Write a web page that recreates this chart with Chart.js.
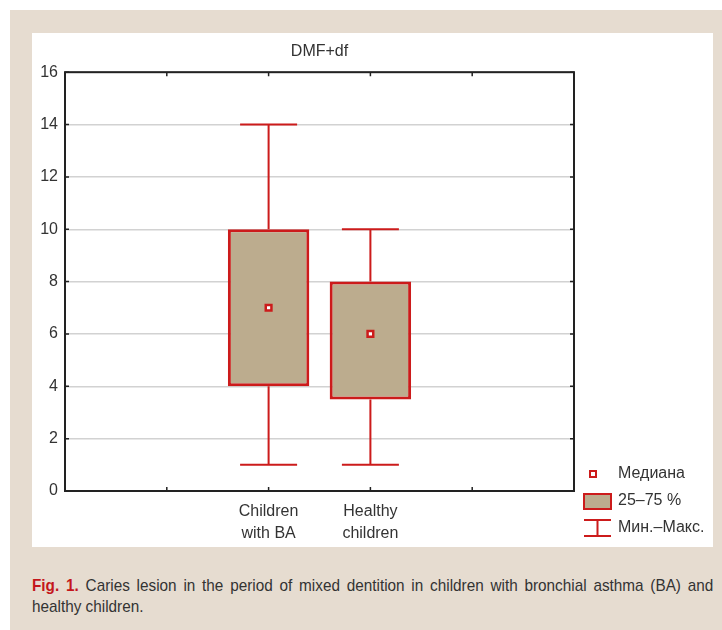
<!DOCTYPE html>
<html lang="en">
<head>
    <meta charset="UTF-8">
    <title>DMF+df</title>
    <script src="https://cdn.jsdelivr.net/npm/chart.js"></script>
    <style>
        body {
            margin: 0;
            background: #ffffff;
            width: 722px;
            height: 630px;
            overflow: hidden;
            font-family: "Liberation Sans", Arial, sans-serif;
        }
        .frame {
            position: absolute;
            left: 10px;
            top: 10px;
            width: 712px;
            height: 620px;
            background: #e6dcd0;
        }
        .panel {
            position: absolute;
            left: 32px;
            top: 33px;
            width: 681px;
            height: 514px;
            background: #ffffff;
        }
        .caption {
            position: absolute;
            left: 32px;
            top: 575px;
            width: 757px;
            transform: scaleX(0.9);
            transform-origin: left top;
            font-family: "Liberation Sans", Arial, sans-serif;
            font-size: 17px;
            line-height: 21px;
            color: #333;
            text-align: justify;
        }
        .caption b {
            color: #c4161c;
        }
    </style>
</head>
<body>
    <div class="frame"></div>
    <div class="panel">
        <canvas id="boxChart" width="681" height="514"></canvas>
    </div>
    <div class="caption"><b>Fig. 1.</b> Caries lesion in the period of mixed dentition in children with bronchial asthma (BA) and healthy children.</div>

    <script>
        // данные (читаются с рисунка)
        const groups = [['Children', 'with BA'], ['Healthy', 'children']];
        const minVals = [1, 1];
        const q1Vals = [4, 3.5];
        const medVals = [7, 6];
        const q3Vals = [10, 8];
        const maxVals = [14, 10];
        const legendItems = ['Медиана', '25–75 %', 'Мин.–Макс.'];

        // 2 пустых слота слева, 2 справа, как на оси STATISTICA
        const labels = ['', ''].concat(groups, ['', '']);
        const pad = v => [null, null].concat(v, [null, null]);

        const red = '#cc1b1b';
        const boxFill = '#bcac8e';
        const axisColor = '#222';

        const boxData = pad(q1Vals.map((q, i) => [q, q3Vals[i]]));

        const boxPlugin = {
            id: 'boxExtras',
            afterDatasetsDraw(chart) {
                const ctx = chart.ctx;
                const y = chart.scales.y;
                const bars = chart.getDatasetMeta(0).data;
                ctx.save();
                ctx.strokeStyle = red;
                ctx.lineWidth = 2;
                groups.forEach((g, i) => {
                    const bar = bars[i + 2];
                    const cx = bar.x;
                    const half = bar.width * 0.35;
                    const yMin = y.getPixelForValue(minVals[i]);
                    const yMax = y.getPixelForValue(maxVals[i]);
                    const yQ1 = y.getPixelForValue(q1Vals[i]);
                    const yQ3 = y.getPixelForValue(q3Vals[i]);
                    ctx.beginPath();
                    ctx.moveTo(cx, yQ3); ctx.lineTo(cx, yMax);
                    ctx.moveTo(cx - half, yMax); ctx.lineTo(cx + half, yMax);
                    ctx.moveTo(cx, yQ1); ctx.lineTo(cx, yMin);
                    ctx.moveTo(cx - half, yMin); ctx.lineTo(cx + half, yMin);
                    ctx.stroke();
                });
                ctx.restore();
            },
            afterDraw(chart) {
                const ctx = chart.ctx;
                const a = chart.chartArea;
                const x = chart.scales.x;
                const y = chart.scales.y;
                ctx.save();
                // рамка и внутренние засечки
                ctx.strokeStyle = axisColor;
                ctx.lineWidth = 1.5;
                ctx.beginPath();
                for (let i = 1; i < labels.length - 1; i++) {
                    const px = x.getPixelForTick(i);
                    ctx.moveTo(px, a.bottom); ctx.lineTo(px, a.bottom - 4);
                    ctx.moveTo(px, a.top); ctx.lineTo(px, a.top + 4);
                }
                y.ticks.forEach((t, i) => {
                    const py = y.getPixelForTick(i);
                    ctx.moveTo(a.left, py); ctx.lineTo(a.left + 4, py);
                    ctx.moveTo(a.right, py); ctx.lineTo(a.right - 4, py);
                });
                ctx.stroke();
                ctx.lineWidth = 2;
                ctx.strokeRect(a.left, a.top, a.right - a.left, a.bottom - a.top);

                // легенда
                const lx = a.right + 10;
                const tx = a.right + 44;
                ctx.font = '16px "Liberation Sans", Arial, sans-serif';
                ctx.fillStyle = '#333';
                ctx.textBaseline = 'middle';
                ctx.textAlign = 'left';
                const rows = [a.bottom - 17, a.bottom + 10, a.bottom + 37];
                legendItems.forEach((t, i) => ctx.fillText(t, tx, rows[i]));

                ctx.strokeStyle = red;
                ctx.lineWidth = 2;
                ctx.fillStyle = '#fff';
                ctx.fillRect(lx + 6, rows[0] - 3, 6, 6);
                ctx.strokeRect(lx + 6, rows[0] - 3, 6, 6);

                ctx.fillStyle = boxFill;
                ctx.fillRect(lx, rows[1] - 7, 27, 15);
                ctx.strokeRect(lx, rows[1] - 7, 27, 15);

                ctx.beginPath();
                ctx.moveTo(lx, rows[2] - 8); ctx.lineTo(lx + 27, rows[2] - 8);
                ctx.moveTo(lx + 13.5, rows[2] - 8); ctx.lineTo(lx + 13.5, rows[2] + 8);
                ctx.moveTo(lx, rows[2] + 8); ctx.lineTo(lx + 27, rows[2] + 8);
                ctx.stroke();
                ctx.restore();
            }
        };

        new Chart(document.getElementById('boxChart'), {
            type: 'bar',
            data: {
                labels: labels,
                datasets: [
                    {
                        type: 'bar',
                        label: '25–75 %',
                        data: boxData,
                        backgroundColor: boxFill,
                        borderColor: red,
                        borderWidth: 3,
                        borderSkipped: false,
                        barPercentage: 0.8,
                        categoryPercentage: 1,
                        order: 2
                    },
                    {
                        type: 'line',
                        label: 'Медиана',
                        data: pad(medVals),
                        showLine: false,
                        pointStyle: 'rect',
                        pointRadius: 4,
                        pointBorderWidth: 2.5,
                        pointBorderColor: red,
                        pointBackgroundColor: '#fff',
                        order: 1
                    }
                ]
            },
            options: {
                responsive: false,
                animation: false,
                layout: { padding: { left: 0, right: 139, top: 0, bottom: 0 } },
                plugins: {
                    legend: { display: false },
                    tooltip: { enabled: false },
                    title: {
                        display: true,
                        text: 'DMF+df',
                        fullSize: false,
                        color: '#333',
                        font: { family: '"Liberation Sans", Arial, sans-serif', size: 16, weight: 'normal' },
                        padding: { top: 9, bottom: 11 }
                    }
                },
                scales: {
                    x: {
                        offset: false,
                        grid: { display: false },
                        border: { display: false },
                        ticks: {
                            color: '#333',
                            padding: 1,
                            maxRotation: 0,
                            autoSkip: false,
                            font: { family: '"Liberation Sans", Arial, sans-serif', size: 16, lineHeight: 1.4 }
                        },
                        afterFit: s => { s.height = 56; }
                    },
                    y: {
                        min: 0,
                        max: 16,
                        grid: { color: '#d2d2d2', lineWidth: 1.5, drawTicks: false },
                        border: { display: false },
                        ticks: {
                            stepSize: 2,
                            color: '#333',
                            padding: 7,
                            font: { family: '"Liberation Sans", Arial, sans-serif', size: 16 }
                        },
                        afterFit: s => { s.width = 33; }
                    }
                }
            },
            plugins: [boxPlugin]
        });
    </script>
</body>
</html>
